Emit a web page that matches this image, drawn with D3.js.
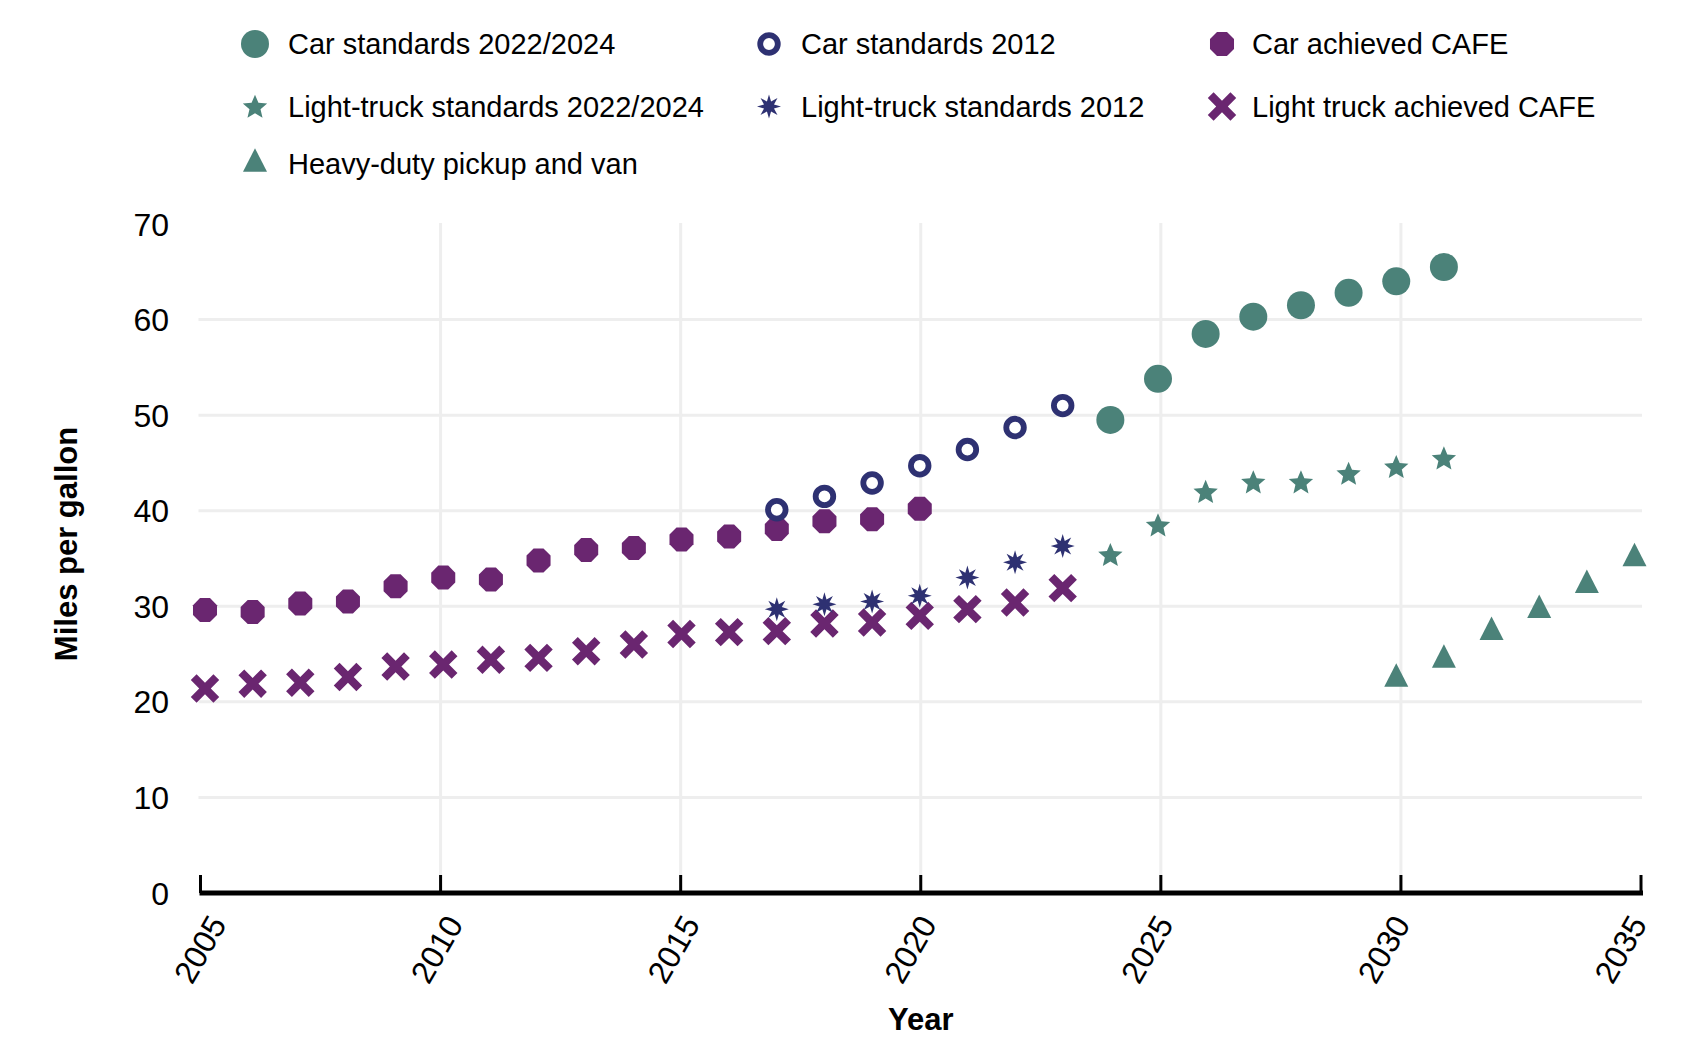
<!DOCTYPE html>
<html>
<head>
<meta charset="utf-8">
<script src="https://cdn.jsdelivr.net/npm/d3@7"></script>
<style>
  html, body { margin: 0; padding: 0; background: #fff; }
  svg { display: block; font-family: "Liberation Sans", Arial, Helvetica, sans-serif; }
</style>
</head>
<body>
<svg id="chart" width="1700" height="1057"></svg>
<script>
// ---- Data ----
const carStd2224Years = [2024, 2025, 2026, 2027, 2028, 2029, 2030, 2031];
const carStd2224 = [49.5, 53.8, 58.5, 60.3, 61.5, 62.8, 64.0, 65.5];

const carStd2012Years = [2017, 2018, 2019, 2020, 2021, 2022, 2023];
const carStd2012 = [40.1, 41.5, 42.9, 44.7, 46.4, 48.7, 51.0];

const carAchievedYears = [2005, 2006, 2007, 2008, 2009, 2010, 2011, 2012, 2013, 2014, 2015, 2016, 2017, 2018, 2019, 2020];
const carAchieved = [29.6, 29.4, 30.3, 30.5, 32.1, 33.0, 32.8, 34.8, 35.9, 36.1, 37.0, 37.3, 38.1, 38.9, 39.1, 40.2];

const ltStd2224Years = [2024, 2025, 2026, 2027, 2028, 2029, 2030, 2031];
const ltStd2224 = [35.4, 38.5, 42.0, 43.0, 43.0, 43.9, 44.6, 45.5];

const ltStd2012Years = [2017, 2018, 2019, 2020, 2021, 2022, 2023];
const ltStd2012 = [29.7, 30.2, 30.5, 31.1, 33.0, 34.6, 36.3];

const ltAchievedYears = [2005, 2006, 2007, 2008, 2009, 2010, 2011, 2012, 2013, 2014, 2015, 2016, 2017, 2018, 2019, 2020, 2021, 2022, 2023];
const ltAchieved = [21.4, 21.9, 22.0, 22.6, 23.7, 23.9, 24.4, 24.6, 25.3, 26.0, 27.1, 27.3, 27.4, 28.2, 28.3, 29.0, 29.7, 30.4, 31.9];

const hdYears = [2030, 2031, 2032, 2033, 2034, 2035];
const hdValues = [22.4, 24.4, 27.3, 29.6, 32.2, 35.0];

const xTicks = [2005, 2010, 2015, 2020, 2025, 2030, 2035];
const yTicks = [0, 10, 20, 30, 40, 50, 60, 70];

const seriesNames = [
  "Car standards 2022/2024", "Car standards 2012", "Car achieved CAFE",
  "Light-truck standards 2022/2024", "Light-truck standards 2012", "Light truck achieved CAFE",
  "Heavy-duty pickup and van"
];

// ---- Styles ----
const TEAL = "#4b8279";
const NAVY = "#2e3172";
const PURPLE = "#6a2670";
const GRID = "#eeeeee";

const svg = d3.select("#chart");
const plotLeft = 200.5, plotRight = 1641, plotTop = 224, plotBottom = 893;

// axis / tick scale
const x = d3.scaleLinear().domain([2005, 2035]).range([plotLeft, plotRight]);
// the source places markers and tick labels on slightly inset ranges
const xMark = d3.scaleLinear().domain([2005, 2035]).range([plotLeft + 4.5, plotRight - 6.5]);
const labelX = d3.scaleLinear().domain([2005, 2035]).range([x(2005) + 27, x(2035) + 7]);
const y = d3.scaleLinear().domain([0, 70]).range([plotBottom, plotTop]);

// ---- marker shapes ----
function polygon(n, r, rot) {
  const pts = [];
  for (let i = 0; i < n; i++) {
    const a = rot + i * 2 * Math.PI / n;
    pts.push([r * Math.cos(a), r * Math.sin(a)]);
  }
  return "M" + pts.map(p => p.join(",")).join("L") + "Z";
}
function starPath(n, ro, ri) {
  const pts = [];
  for (let i = 0; i < 2 * n; i++) {
    const a = -Math.PI / 2 + i * Math.PI / n;
    const r = i % 2 === 0 ? ro : ri;
    pts.push([r * Math.cos(a), r * Math.sin(a)]);
  }
  return "M" + pts.map(p => p.join(",")).join("L") + "Z";
}
function crossPath(s, t) {
  const pts = [[-t, -s], [t, -s], [t, -t], [s, -t], [s, t], [t, t], [t, s], [-t, s], [-t, t], [-s, t], [-s, -t], [-t, -t]];
  const c = Math.cos(Math.PI / 4), sn = Math.sin(Math.PI / 4);
  return "M" + pts.map(([px, py]) => [px * c - py * sn, px * sn + py * c].join(",")).join("L") + "Z";
}
function trianglePath(w, h) {
  return `M0,${-2 * h / 3}L${w / 2},${h / 3}L${-w / 2},${h / 3}Z`;
}

const markers = [
  { name: seriesNames[0], draw: g => g.append("circle").attr("r", 14).attr("fill", TEAL) },
  { name: seriesNames[1], draw: g => g.append("circle").attr("r", 8.8).attr("fill", "#fff").attr("stroke", NAVY).attr("stroke-width", 5.8) },
  { name: seriesNames[2], draw: g => g.append("path").attr("d", polygon(8, 13, Math.PI / 8)).attr("fill", PURPLE) },
  { name: seriesNames[3], draw: g => g.append("path").attr("d", starPath(5, 12.8, 5.8)).attr("transform", "translate(0,1)").attr("fill", TEAL) },
  { name: seriesNames[4], draw: g => g.append("path").attr("d", starPath(8, 12, 5.4)).attr("fill", NAVY) },
  { name: seriesNames[5], draw: g => g.append("path").attr("d", crossPath(16, 4.1)).attr("fill", PURPLE) },
  { name: seriesNames[6], draw: g => g.append("path").attr("d", trianglePath(24, 23.5)).attr("fill", TEAL) }
];

// ---- gridlines ----
const grid = svg.append("g");
grid.selectAll(".hg").data(yTicks.filter(t => t > 0 && t < 70)).join("line")
  .attr("x1", plotLeft - 2).attr("x2", plotRight + 1)
  .attr("y1", d => y(d)).attr("y2", d => y(d))
  .attr("stroke", GRID).attr("stroke-width", 3);
grid.selectAll(".vg").data(xTicks.filter(t => t > 2005 && t < 2035)).join("line")
  .attr("x1", d => x(d)).attr("x2", d => x(d))
  .attr("y1", plotTop - 1).attr("y2", plotBottom)
  .attr("stroke", GRID).attr("stroke-width", 3);

// ---- y labels ----
svg.append("g").selectAll("text").data(yTicks).join("text")
  .attr("x", 169).attr("y", d => y(d))
  .attr("dy", "0.36em")
  .attr("text-anchor", "end")
  .attr("font-size", 32)
  .attr("fill", "#000")
  .text(d => d);

// ---- series ----
function plotSeries(years, vals, idx) {
  const g = svg.append("g");
  years.forEach((yr, i) => {
    const m = g.append("g").attr("transform", `translate(${xMark(yr)},${y(vals[i])})`);
    markers[idx].draw(m);
  });
}
plotSeries(carAchievedYears, carAchieved, 2);
plotSeries(ltAchievedYears, ltAchieved, 5);
plotSeries(carStd2012Years, carStd2012, 1);
plotSeries(ltStd2012Years, ltStd2012, 4);
plotSeries(carStd2224Years, carStd2224, 0);
plotSeries(ltStd2224Years, ltStd2224, 3);
plotSeries(hdYears, hdValues, 6);

// ---- x axis ----
const xa = svg.append("g");
xa.append("line").attr("x1", plotLeft - 1).attr("x2", plotRight + 2).attr("y1", plotBottom).attr("y2", plotBottom)
  .attr("stroke", "#000").attr("stroke-width", 5);
xa.selectAll(".tick").data(xTicks).join("line")
  .attr("x1", d => x(d)).attr("x2", d => x(d))
  .attr("y1", plotBottom - 18).attr("y2", plotBottom)
  .attr("stroke", "#000").attr("stroke-width", 3);
xa.selectAll("text").data(xTicks).join("text")
  .attr("transform", d => `translate(${labelX(d)},${plotBottom + 31}) rotate(-60)`)
  .attr("text-anchor", "end")
  .attr("font-size", 32)
  .attr("fill", "#000")
  .text(d => d);

// ---- axis titles ----
svg.append("text")
  .attr("x", (plotLeft + plotRight) / 2).attr("y", 1030)
  .attr("text-anchor", "middle")
  .attr("font-size", 31).attr("font-weight", "bold")
  .text("Year");
svg.append("text")
  .attr("transform", "translate(77,544) rotate(-90)")
  .attr("text-anchor", "middle")
  .attr("font-size", 31).attr("font-weight", "bold")
  .text("Miles per gallon");

// ---- legend ----
const legCols = [255, 769, 1222];
const legTextOffset = [33, 32, 30];
const legRows = [44, 106.5, 164];
const leg = svg.append("g");
markers.forEach((mk, k) => {
  const col = k % 3, row = Math.floor(k / 3);
  const g = leg.append("g").attr("transform", `translate(${legCols[col]},${legRows[row]})`);
  mk.draw(g);
  g.append("text").attr("x", legTextOffset[col]).attr("dy", "0.36em")
    .attr("font-size", 29).attr("fill", "#000")
    .text(mk.name);
});
</script>
</body>
</html>
